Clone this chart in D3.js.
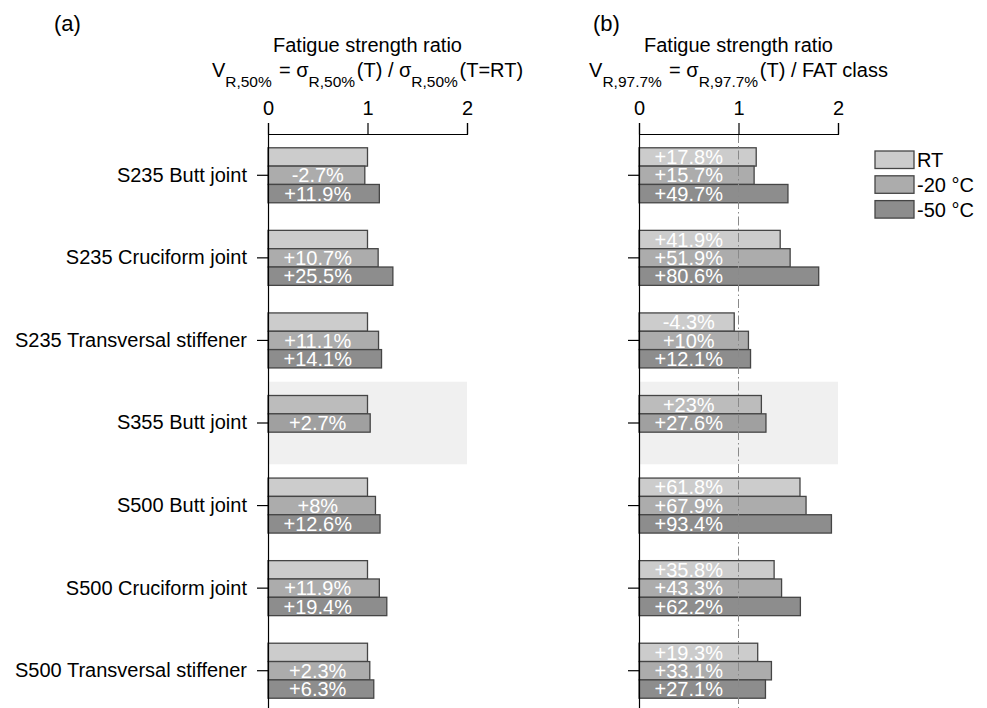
<!DOCTYPE html>
<html>
<head>
<meta charset="utf-8">
<script src="https://cdn.jsdelivr.net/npm/d3@7"></script>
<style>
  body { margin: 0; background: #fff; }
  svg { display: block; font-family: "Liberation Sans", Arial, sans-serif; }
</style>
</head>
<body>
<div id="chart"></div>
<script>
// categories (top to bottom)
var categories = [
  "S235 Butt joint",
  "S235 Cruciform joint",
  "S235 Transversal stiffener",
  "S355 Butt joint",
  "S500 Butt joint",
  "S500 Cruciform joint",
  "S500 Transversal stiffener"
];
var series = [ "RT", "-20 °C", "-50 °C" ];
var highlighted = "S355 Butt joint";

// (a) change vs. RT in % (RT itself = reference, ratio 1)
var a_rt  = [ 0, 0, 0, 0, 0, 0, 0 ];
var a_m20 = [ -2.7, 10.7, 11.1, 2.7, 8, 11.9, 2.3 ];
var a_m50 = [ 11.9, 25.5, 14.1, null, 12.6, 19.4, 6.3 ];

// (b) ratio to FAT class, written as % above 1
var b_rt  = [ 17.8, 41.9, -4.3, 23, 61.8, 35.8, 19.3 ];
var b_m20 = [ 15.7, 51.9, 10, 27.6, 67.9, 43.3, 33.1 ];
var b_m50 = [ 49.7, 80.6, 12.1, null, 93.4, 62.2, 27.1 ];

var xTicks = [ 0, 1, 2 ];

var fills = [ "#cccccc", "#acacac", "#8d8d8d" ];
var fillsHi = [ "#bcbcbc", "#a0a0a0", "#8d8d8d" ];

var W = 987, H = 708;
var svg = d3.select( "#chart" ).append( "svg" )
  .attr( "width", W ).attr( "height", H );

var y = d3.scaleBand().domain( categories ).range( [ 134, 712 ] ).padding( 0 );
var ySub = d3.scaleBand().domain( series ).range( [ -27.5, 27.5 ] ).padding( 0 );

function fmt( p ){
  return ( p > 0 ? "+" : "" ) + p + "%";
}

function panel( opt ){
  var x = d3.scaleLinear().domain( [ 0, 2 ] ).range( [ opt.x0, opt.x0 + 199 ] );
  var g = svg.append( "g" );

  // panel letter
  g.append( "text" )
    .attr( "x", opt.letterX ).attr( "y", 31 )
    .attr( "font-size", 22 )
    .text( opt.letter );

  // titles
  g.append( "text" )
    .attr( "x", x( 1 ) ).attr( "y", 52 )
    .attr( "text-anchor", "middle" )
    .attr( "font-size", 20 )
    .text( "Fatigue strength ratio" );

  var t2 = g.append( "text" )
    .attr( "x", x( 1 ) ).attr( "y", 77 )
    .attr( "text-anchor", "middle" )
    .attr( "font-size", 20 );
  opt.formula.forEach( function( part ){
    if( part.sub ){
      t2.append( "tspan" ).attr( "dy", 10 ).attr( "font-size", 15.5 ).text( part.sub );
      t2.append( "tspan" ).attr( "dy", -10 ).text( "\u200a" );
    } else {
      t2.append( "tspan" ).text( part.t );
    }
  } );

  // highlighted band
  g.append( "rect" )
    .attr( "x", x( 0 ) )
    .attr( "y", y( highlighted ) )
    .attr( "width", x( 2 ) - x( 0 ) )
    .attr( "height", y.bandwidth() )
    .attr( "fill", "#f0f0f0" );

  var rows = [];
  categories.forEach( function( c, i ){
    opt.values.forEach( function( arr, s ){
      rows.push( { cat: c, s: s, pct: arr[ i ] } );
    } );
  } );

  var bars = rows.filter( function( d ){
    return d.pct !== null || opt.drawMissing;
  } );

  g.selectAll( "rect.bar" )
    .data( bars )
    .enter().append( "rect" )
    .attr( "class", "bar" )
    .attr( "x", x( 0 ) )
    .attr( "y", function( d ){ return y( d.cat ) + y.bandwidth() / 2 + ySub( series[ d.s ] ); } )
    .attr( "width", function( d ){ return d.pct === null ? 0 : x( 1 + d.pct / 100 ) - x( 0 ); } )
    .attr( "height", ySub.bandwidth() )
    .attr( "fill", function( d ){ return ( d.cat === highlighted ? fillsHi : fills )[ d.s ]; } )
    .attr( "stroke", "#454545" )
    .attr( "stroke-width", 1.3 );

  g.selectAll( "text.lab" )
    .data( rows.filter( function( d ){ return d.pct !== null && ( d.s > 0 || opt.labelRT ); } ) )
    .enter().append( "text" )
    .attr( "class", "lab" )
    .attr( "x", x( 0.5 ) )
    .attr( "y", function( d ){ return y( d.cat ) + y.bandwidth() / 2 + ySub( series[ d.s ] ) + ySub.bandwidth() / 2; } )
    .attr( "dy", "0.36em" )
    .attr( "text-anchor", "middle" )
    .attr( "font-size", 20 )
    .attr( "fill", "#fff" )
    .text( function( d ){ return fmt( d.pct ); } );

  if( opt.refLine ){
    g.append( "line" )
      .attr( "x1", x( 1 ) ).attr( "x2", x( 1 ) )
      .attr( "y1", 134 ).attr( "y2", H )
      .attr( "stroke", "#8a8a8a" )
      .attr( "stroke-width", 1 )
      .attr( "stroke-dasharray", "9,3,1.5,3" );
  }

  // axes
  var xa = g.append( "g" )
    .attr( "transform", "translate(0,134)" )
    .call( d3.axisTop( x ).tickValues( xTicks ).tickFormat( d3.format( "d" ) )
      .tickSizeInner( 11 ).tickSizeOuter( 11 ).tickPadding( 8 ) );
  xa.selectAll( "text" ).attr( "font-size", 20 ).attr( "font-family", null ).attr( "fill", "#000" );
  xa.selectAll( "path, line" ).attr( "stroke", "#000" ).attr( "stroke-width", 1.2 );

  var ya = g.append( "g" )
    .attr( "transform", "translate(" + x( 0 ) + ",0)" )
    .call( d3.axisLeft( y ).tickSizeInner( 11 ).tickSizeOuter( 0 ).tickPadding( 10 ) );
  ya.selectAll( "text" )
    .attr( "font-size", 20 ).attr( "font-family", null ).attr( "fill", "#000" )
    .style( "display", opt.yLabels ? null : "none" );
  ya.selectAll( "path, line" ).attr( "stroke", "#000" ).attr( "stroke-width", 1.2 );
}

panel( {
  x0: 268, letter: "(a)", letterX: 54,
  values: [ a_rt, a_m20, a_m50 ],
  labelRT: false, drawMissing: true, yLabels: true, refLine: false,
  formula: [
    { t: "V" }, { sub: "R,50%" }, { t: " = σ" }, { sub: "R,50%" },
    { t: "(T) / σ" }, { sub: "R,50%" }, { t: "(T=RT)" }
  ]
} );

panel( {
  x0: 639, letter: "(b)", letterX: 593,
  values: [ b_rt, b_m20, b_m50 ],
  labelRT: true, drawMissing: false, yLabels: false, refLine: true,
  formula: [
    { t: "V" }, { sub: "R,97.7%" }, { t: " = σ" }, { sub: "R,97.7%" },
    { t: "(T) / FAT class" }
  ]
} );

// legend
var legend = svg.append( "g" ).attr( "transform", "translate(875,151)" );
var li = legend.selectAll( "g" ).data( series ).enter().append( "g" )
  .attr( "transform", function( d, i ){ return "translate(0," + ( i * 24.8 ) + ")"; } );
li.append( "rect" )
  .attr( "width", 39 ).attr( "height", 17.5 )
  .attr( "fill", function( d, i ){ return fills[ i ]; } )
  .attr( "stroke", "#454545" ).attr( "stroke-width", 1.3 );
li.append( "text" )
  .attr( "x", 42 ).attr( "y", 8.75 ).attr( "dy", "0.36em" )
  .attr( "font-size", 20 )
  .text( function( d ){ return d; } );
</script>
</body>
</html>
